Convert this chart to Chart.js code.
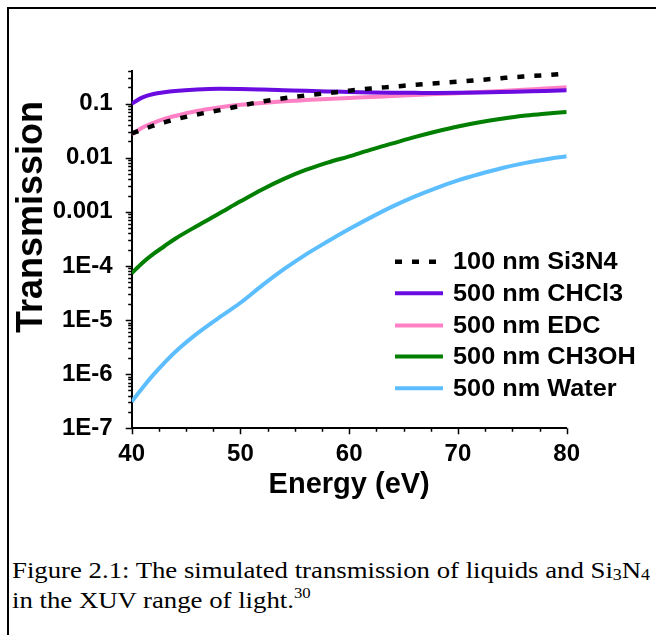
<!DOCTYPE html>
<html>
<head>
<meta charset="utf-8">
<script src="https://cdn.jsdelivr.net/npm/chart.js@4.4.1/dist/chart.umd.min.js"></script>
<style>
  html, body { margin: 0; padding: 0; background: #fff; }
  body { width: 656px; height: 635px; position: relative; overflow: hidden; }
  #frame { position: absolute; left: 7px; top: 7px; width: 700px; height: 700px;
           border-left: 2px solid #000; border-top: 2px solid #000; }
  #wrap { position: absolute; left: 0; top: 0; width: 656px; height: 520px; }
  #caption { position: absolute; left: 12px; top: 555px; color: #000;
             font-family: "Liberation Serif", "Times New Roman", serif;
             font-size: 24px; line-height: 30px; white-space: nowrap;
             transform: scaleX(1.115); transform-origin: 0 0; }
  #caption sub { font-size: 16px; vertical-align: -2px; line-height: 0; }
  #caption sup { font-size: 15px; vertical-align: 10px; line-height: 0; }
</style>
</head>
<body>
<div id="frame"></div>
<div id="wrap"><canvas id="grafica" width="656" height="520"></canvas></div>
<div id="caption">Figure 2.1: The simulated transmission of liquids and Si<sub>3</sub>N<sub>4</sub><br>in the XUV range of light.<sup>30</sup></div>
<script>
// datos
var energy = [40, 41, 42, 43, 44, 46, 48, 50, 52, 54, 56, 58, 60, 62, 64, 66, 68, 70, 72, 74, 76, 78, 80];
var si3n4 = [0.028, 0.033, 0.039, 0.045, 0.051, 0.063, 0.075, 0.091, 0.109, 0.126, 0.141, 0.156, 0.173, 0.19, 0.205, 0.222, 0.238, 0.253, 0.273, 0.295, 0.317, 0.335, 0.36];
var chcl3 = [0.1, 0.13, 0.15, 0.162, 0.171, 0.182, 0.187, 0.186, 0.182, 0.177, 0.172, 0.168, 0.164, 0.161, 0.159, 0.158, 0.157, 0.158, 0.16, 0.163, 0.167, 0.171, 0.176];
var edc = [0.027, 0.036, 0.044, 0.052, 0.059, 0.073, 0.085, 0.095, 0.103, 0.11, 0.116, 0.122, 0.127, 0.132, 0.138, 0.144, 0.15, 0.156, 0.163, 0.171, 0.18, 0.19, 0.2];
var ch3oh = [7.3e-5, 1.15e-4, 1.67e-4, 2.31e-4, 3.18e-4, 5.47e-4, 9.2e-4, 1.56e-3, 2.59e-3, 4.06e-3, 5.93e-3, 8.1e-3, 0.0106, 0.0141, 0.0184, 0.024, 0.0305, 0.0378, 0.0452, 0.0525, 0.0596, 0.0646, 0.07];
var water = [3.09e-7, 5.6e-7, 9.8e-7, 1.62e-6, 2.57e-6, 5.6e-6, 1.1e-5, 2.09e-5, 4.37e-5, 8.7e-5, 1.62e-4, 2.82e-4, 4.79e-4, 7.9e-4, 1.26e-3, 1.91e-3, 2.75e-3, 3.8e-3, 5.0e-3, 6.4e-3, 7.85e-3, 9.3e-3, 0.0106];

var seriesNames = ['100 nm Si3N4', '500 nm CHCl3', '500 nm EDC', '500 nm CH3OH', '500 nm Water'];
var xTicks = [40, 50, 60, 70, 80];
var yTicks = [1e-7, 1e-6, 1e-5, 1e-4, 1e-3, 0.01, 0.1];
var yTickLabels = ['1E-7', '1E-6', '1E-5', '1E-4', '0.001', '0.01', '0.1'];

var fuente = '"Liberation Sans", Arial, sans-serif';

function puntos(valores) {
  return energy.map(function (e, i) { return { x: e, y: valores[i] }; });
}

function serie(i, valores, color, extra) {
  var ds = {
    label: seriesNames[i],
    data: puntos(valores),
    borderColor: color,
    backgroundColor: color,
    borderWidth: 4,
    pointRadius: 0,
    fill: false,
    cubicInterpolationMode: 'monotone'
  };
  return Object.assign(ds, extra || {});
}

// marcas menores y mayores de los ejes
var marcas = {
  id: 'marcas',
  afterDraw: function (chart) {
    var ctx = chart.ctx, x = chart.scales.x, y = chart.scales.y, area = chart.chartArea;
    ctx.save();
    ctx.strokeStyle = '#000';
    ctx.lineWidth = 1.5;
    ctx.beginPath();
    for (var exp = -7; exp <= 0; exp++) {
      for (var m = 1; m <= 9; m++) {
        var v = m * Math.pow(10, exp);
        if (v < y.min * 0.999 || v > y.max * 1.001) { continue; }
        var py = Math.round(y.getPixelForValue(v)) + 0.5;
        var largo = m === 1 ? 6 : 3.5;
        ctx.moveTo(area.left - largo, py);
        ctx.lineTo(area.left, py);
      }
    }
    for (var e = x.min; e <= x.max + 0.01; e += 2.5) {
      var px = Math.round(x.getPixelForValue(e)) + 0.5;
      var l2 = (e % 10 === 0) ? 6 : 3.5;
      ctx.moveTo(px, area.bottom);
      ctx.lineTo(px, area.bottom + l2);
    }
    ctx.stroke();
    ctx.restore();
  }
};

// titulo del eje y (va un poco por encima del centro, como en el original)
var tituloY = {
  id: 'tituloY',
  afterDraw: function (chart) {
    var ctx = chart.ctx;
    ctx.save();
    ctx.translate(31, 217);
    ctx.rotate(-Math.PI / 2);
    ctx.font = 'bold 36px ' + fuente;
    ctx.fillStyle = '#000';
    ctx.textAlign = 'center';
    ctx.textBaseline = 'middle';
    ctx.fillText('Transmission', 0, 1);
    ctx.restore();
  }
};

// leyenda dentro del area
var leyenda = {
  id: 'leyenda',
  afterDraw: function (chart) {
    var ctx = chart.ctx;
    var filas = [261.7, 293.3, 325.5, 356.6, 388.2];
    ctx.save();
    ctx.font = 'bold 23px ' + fuente;
    ctx.textBaseline = 'middle';
    ctx.textAlign = 'left';
    chart.data.datasets.forEach(function (ds, i) {
      var yy = filas[i];
      ctx.strokeStyle = ds.borderColor;
      ctx.lineWidth = ds.borderWidth;
      ctx.setLineDash(ds.borderDash || []);
      ctx.beginPath();
      ctx.moveTo(395, yy);
      ctx.lineTo(ds.borderDash ? 437 : 443, yy);
      ctx.stroke();
      ctx.setLineDash([]);
      ctx.fillStyle = '#000';
      ctx.save();
      ctx.translate(453, yy + 1);
      ctx.scale(1.1, 1);
      ctx.fillText(ds.label, 0, 0);
      ctx.restore();
    });
    ctx.restore();
  }
};

var ctx = document.getElementById('grafica');

var grafica = new Chart(ctx, {
  type: 'line',
  plugins: [marcas, tituloY, leyenda],
  data: {
    datasets: [
      serie(0, si3n4, '#000000', { borderWidth: 4.5, borderDash: [7, 10], borderCapStyle: 'butt' }),
      serie(1, chcl3, '#6a0be0'),
      serie(2, edc, '#ff80c4'),
      serie(3, ch3oh, '#007f00'),
      serie(4, water, '#5cbeff')
    ]
  },
  options: {
    responsive: false,
    animation: false,
    layout: { padding: { left: 0, top: 71, right: 89.3, bottom: 11.7 } },
    plugins: {
      legend: { display: false },
      tooltip: { enabled: false }
    },
    scales: {
      x: {
        type: 'linear',
        min: 40,
        max: 80,
        afterBuildTicks: function (s) { s.ticks = xTicks.map(function (v) { return { value: v }; }); },
        afterFit: function (s) { s.height = 80; },
        grid: { display: false },
        border: { display: true, color: '#000', width: 2 },
        ticks: {
          color: '#000',
          padding: 4,
          maxRotation: 0,
          autoSkip: false,
          font: { family: fuente, size: 24, weight: 'bold' }
        },
        title: {
          display: true,
          text: 'Energy (eV)',
          color: '#000',
          font: { family: fuente, size: 29, weight: 'bold' },
          padding: { top: 0, bottom: 6 }
        }
      },
      y: {
        type: 'logarithmic',
        min: 1e-7,
        max: 0.4,
        afterBuildTicks: function (s) { s.ticks = yTicks.map(function (v) { return { value: v }; }); },
        afterFit: function (s) { s.width = 131.7; },
        grid: { display: false },
        border: { display: true, color: '#000', width: 2 },
        ticks: {
          color: '#000',
          padding: 11,
          autoSkip: false,
          font: { family: fuente, size: 24, weight: 'bold' },
          callback: function (value) {
            var idx = yTicks.findIndex(function (t) { return Math.abs(Math.log10(t) - Math.log10(value)) < 1e-6; });
            return idx >= 0 ? yTickLabels[idx] : '';
          }
        },
        title: { display: false }
      }
    }
  }
});
</script>
</body>
</html>
